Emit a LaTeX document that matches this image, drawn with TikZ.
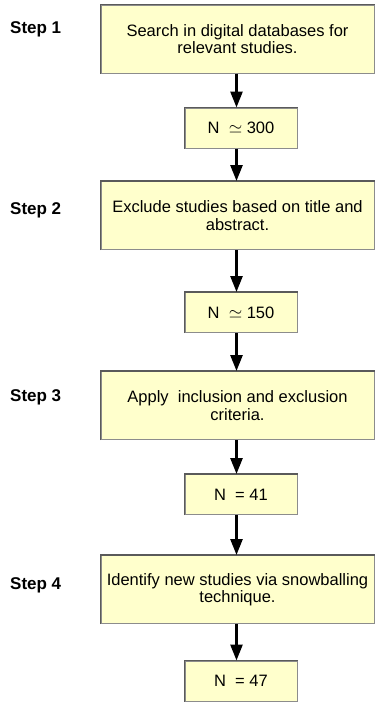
\documentclass[tikz,border=0pt]{standalone}
\usepackage{fontspec}
\setmainfont{Liberation Sans}
\usetikzlibrary{arrows.meta}
\definecolor{boxfill}{HTML}{FFFFCC}
\definecolor{boxedge}{HTML}{8C8C8C}
\definecolor{boxdark}{HTML}{5A5A5A}
\begin{document}
\begin{tikzpicture}[x=1pt,y=-1pt,
  boxbase/.style={draw=boxedge, line width=1pt, fill=boxfill, inner sep=0pt, align=center,
    font=\fontsize{16.5}{17.5}\selectfont},
  bigbox/.style={boxbase, minimum width=273pt, minimum height=68pt},
  smallbox/.style={boxbase, minimum width=112pt, minimum height=40pt},
  steplabel/.style={anchor=base west, inner sep=0pt, font=\bfseries\fontsize{17}{20}\selectfont},
  edge/.style={boxdark, line width=1.5pt},
  flow/.style={line width=2.6pt, -{Triangle[length=16pt,width=12pt]}}]
\useasboundingbox (0,0) rectangle (377,702);

\node[bigbox] (b1) at (237.5,39) {Search in digital databases for\\relevant studies.};
\node[smallbox] (s1) at (241,128) {N\ \ $\simeq$ 300};
\node[bigbox] (b2) at (237.5,215.5) {Exclude studies based on title and\\abstract.};
\node[smallbox] (s2) at (241,312.5) {N\ \ $\simeq$ 150};
\node[bigbox] (b3) at (237.5,405.5) {Apply\ \ inclusion and exclusion\\criteria.};
\node[smallbox] (s3) at (241,494.5) {N\ \ = 41};
\node[bigbox] (b4) at (237.5,589.5) {Identify new studies via snowballing\\technique.};
\node[smallbox] (s4) at (241,681) {N\ \ = 47};

\foreach \n in {b1,s1,b2,s2,b3,s3,b4,s4}
  \draw[edge] (\n.south west) -- (\n.north west) -- (\n.north east);

\node[steplabel] (l1) at (10,33.5) {Step 1};
\node[steplabel] (l2) at (10,214) {Step 2};
\node[steplabel] (l3) at (10,401) {Step 3};
\node[steplabel] (l4) at (10,589) {Step 4};

\draw[flow] ([xshift=-1pt]b1.south) -- ([xshift=-1pt]b1.south |- s1.north);
\draw[flow] ([xshift=-1pt]b1.south |- s1.south) -- ([xshift=-1pt]b2.north);
\draw[flow] ([xshift=-1pt]b2.south) -- ([xshift=-1pt]b2.south |- s2.north);
\draw[flow] ([xshift=-1pt]b2.south |- s2.south) -- ([xshift=-1pt]b3.north);
\draw[flow] ([xshift=-1pt]b3.south) -- ([xshift=-1pt]b3.south |- s3.north);
\draw[flow] ([xshift=-1pt]b3.south |- s3.south) -- ([xshift=-1pt]b4.north);
\draw[flow] ([xshift=-1pt]b4.south) -- ([xshift=-1pt]b4.south |- s4.north);
\end{tikzpicture}
\end{document}
